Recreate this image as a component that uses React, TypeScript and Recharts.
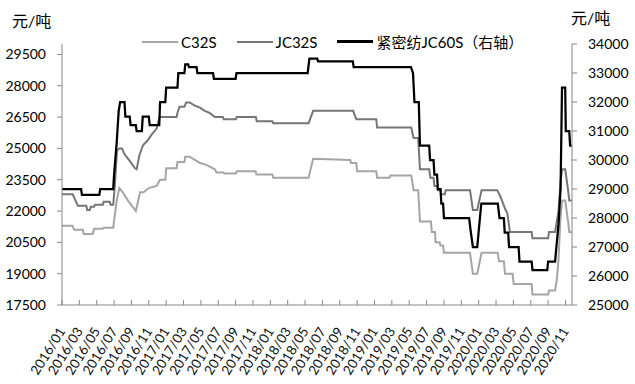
import { Line, LineChart, XAxis, YAxis } from "recharts";

const tickLabels = [
  "2016/01", "2016/03", "2016/05", "2016/07", "2016/09", "2016/11",
  "2017/01", "2017/03", "2017/05", "2017/07", "2017/09", "2017/11",
  "2018/01", "2018/03", "2018/05", "2018/07", "2018/09", "2018/11",
  "2019/01", "2019/03", "2019/05", "2019/07", "2019/09", "2019/11",
  "2020/01", "2020/03", "2020/05", "2020/07", "2020/09", "2020/11",
];

const leftTicks = [17500, 19000, 20500, 22000, 23500, 25000, 26500, 28000, 29500];
const rightTicks = [25000, 26000, 27000, 28000, 29000, 30000, 31000, 32000, 33000, 34000];

// C32S (left axis)
const c32sDates = [
  "2016/01/01", "2016/02/07", "2016/02/13", "2016/03/13", "2016/03/16", "2016/04/17",
  "2016/04/22", "2016/05/22", "2016/05/25", "2016/06/28", "2016/07/10", "2016/07/19",
  "2016/08/01", "2016/08/19", "2016/09/16", "2016/10/01", "2016/10/13", "2016/11/01",
  "2016/11/28", "2016/12/10", "2016/12/28", "2017/01/01", "2017/02/07", "2017/02/10",
  "2017/03/04", "2017/03/07", "2017/03/22", "2017/04/10", "2017/04/28", "2017/05/22",
  "2017/06/19", "2017/06/25", "2017/07/19", "2017/07/22", "2017/09/02", "2017/09/05",
  "2017/11/10", "2017/11/13", "2018/01/08", "2018/01/11", "2018/05/13", "2018/05/29",
  "2018/10/07", "2018/10/10", "2018/10/28", "2018/11/01", "2019/01/07", "2019/01/10",
  "2019/02/23", "2019/02/26", "2019/05/08", "2019/05/16", "2019/06/02", "2019/06/08",
  "2019/07/16", "2019/07/19", "2019/07/30", "2019/08/02", "2019/08/16", "2019/08/19",
  "2019/08/28", "2019/09/01", "2019/12/01", "2019/12/11", "2019/12/26", "2020/01/11",
  "2020/03/07", "2020/03/11", "2020/03/28", "2020/04/02", "2020/04/28", "2020/05/02",
  "2020/07/04", "2020/07/07", "2020/09/01", "2020/09/04", "2020/09/25", "2020/10/01",
  "2020/10/07", "2020/10/13", "2020/10/19", "2020/10/30", "2020/11/10", "2020/11/14",
  "2020/11/23",
];
const c32sValues = [
  21300, 21300, 21100, 21100, 20900, 20900,
  21150, 21150, 21200, 21200, 22500, 23100,
  22900, 22500, 22000, 22900, 22900, 23100,
  23200, 23500, 23500, 24050, 24050, 24350,
  24350, 24600, 24600, 24450, 24300, 24200,
  24000, 23850, 23850, 23800, 23800, 23900,
  23900, 23750, 23750, 23600, 23600, 24500,
  24450, 24300, 24300, 23900, 23900, 23600,
  23600, 23700, 23700, 23000, 23000, 21500,
  21500, 21000, 21000, 20500, 20500, 20350,
  20350, 20000, 20000, 19000, 19000, 20000,
  20000, 19600, 19600, 19000, 19000, 18500,
  18500, 18000, 18000, 18200, 18200, 18700,
  19700, 21500, 22500, 22500, 21500, 21000,
  21000,
];

// JC32S (left axis)
const jc32sDates = [
  "2016/01/01", "2016/02/08", "2016/02/26", "2016/03/25", "2016/03/28", "2016/04/07",
  "2016/04/10", "2016/04/22", "2016/04/25", "2016/05/22", "2016/05/25", "2016/06/16",
  "2016/06/19", "2016/06/28", "2016/07/04", "2016/07/11", "2016/07/19", "2016/07/28",
  "2016/08/08", "2016/08/25", "2016/09/13", "2016/09/19", "2016/09/29", "2016/10/11",
  "2016/10/28", "2016/11/10", "2016/11/28", "2016/12/08", "2017/02/07", "2017/02/10",
  "2017/02/17", "2017/03/04", "2017/03/10", "2017/03/22", "2017/04/10", "2017/04/28",
  "2017/05/14", "2017/06/01", "2017/06/19", "2017/07/17", "2017/07/20", "2017/09/02",
  "2017/09/05", "2017/11/11", "2017/11/14", "2018/01/08", "2018/01/11", "2018/05/13",
  "2018/05/29", "2018/10/17", "2018/10/28", "2019/01/07", "2019/01/10", "2019/05/08",
  "2019/05/16", "2019/06/02", "2019/06/08", "2019/07/10", "2019/07/14", "2019/07/25",
  "2019/07/28", "2019/08/07", "2019/08/10", "2019/08/19", "2019/08/22", "2019/09/04",
  "2019/09/07", "2019/12/01", "2019/12/11", "2019/12/26", "2020/01/11", "2020/03/05",
  "2020/03/16", "2020/04/04", "2020/04/10", "2020/04/19", "2020/07/04", "2020/07/07",
  "2020/09/01", "2020/09/04", "2020/09/25", "2020/10/07", "2020/10/14", "2020/10/19",
  "2020/10/30", "2020/11/10", "2020/11/14", "2020/11/23",
];
const jc32sValues = [
  22800, 22800, 22250, 22250, 22050, 22050,
  22200, 22200, 22300, 22300, 22450, 22450,
  22300, 22300, 23300, 24900, 25000, 25000,
  24700, 24400, 24050, 24000, 24700, 25150,
  25400, 25650, 25950, 26500, 26500, 26700,
  27000, 27000, 27200, 27200, 27050, 26950,
  26800, 26700, 26500, 26500, 26400, 26400,
  26500, 26500, 26300, 26300, 26200, 26200,
  26800, 26800, 26400, 26400, 26000, 26000,
  25500, 25500, 24000, 24000, 23600, 23600,
  23200, 23200, 23000, 23000, 22800, 22800,
  23000, 23000, 22050, 22050, 23000, 23000,
  22700, 22050, 21900, 21000, 21000, 20700,
  20700, 21000, 21000, 22000, 23400, 24000,
  24000, 23000, 22500, 22500,
];

// 紧密纺JC60S (right axis)
const jc60sDates = [
  "2016/01/01", "2016/03/07", "2016/03/10", "2016/05/10", "2016/05/13", "2016/06/28",
  "2016/07/01", "2016/07/10", "2016/07/17", "2016/07/22", "2016/08/07", "2016/08/10",
  "2016/08/25", "2016/08/28", "2016/09/16", "2016/09/19", "2016/10/07", "2016/10/10",
  "2016/11/01", "2016/11/04", "2016/12/07", "2016/12/10", "2016/12/28", "2017/01/01",
  "2017/02/10", "2017/02/13", "2017/03/04", "2017/03/07", "2017/03/17", "2017/03/20",
  "2017/04/16", "2017/04/19", "2017/06/13", "2017/06/16", "2017/09/01", "2017/09/04",
  "2018/05/10", "2018/05/16", "2018/06/13", "2018/06/16", "2018/10/16", "2018/10/19",
  "2019/05/07", "2019/05/14", "2019/05/19", "2019/06/04", "2019/06/08", "2019/07/10",
  "2019/07/13", "2019/07/25", "2019/07/28", "2019/08/07", "2019/08/10", "2019/08/19",
  "2019/08/22", "2019/08/28", "2019/09/01", "2019/11/28", "2019/12/04", "2019/12/11",
  "2019/12/26", "2020/01/10", "2020/03/07", "2020/03/13", "2020/03/28", "2020/04/01",
  "2020/04/13", "2020/04/16", "2020/05/19", "2020/05/22", "2020/07/04", "2020/07/07",
  "2020/08/28", "2020/09/01", "2020/09/25", "2020/10/07", "2020/10/14", "2020/10/19",
  "2020/10/30", "2020/11/02", "2020/11/14", "2020/11/17", "2020/11/23",
];
const jc60sValues = [
  29000, 29000, 28800, 28800, 29000, 29000,
  29500, 30600, 31700, 32000, 32000, 31500,
  31500, 31200, 31200, 31000, 31000, 31500,
  31500, 31200, 31200, 32000, 32000, 32500,
  32500, 33000, 33000, 33300, 33300, 33200,
  33200, 33000, 33000, 32800, 32800, 33000,
  33000, 33500, 33500, 33400, 33400, 33200,
  33200, 33000, 32000, 32000, 30500, 30500,
  30000, 30000, 29500, 29500, 29000, 29000,
  28500, 28500, 28000, 28000, 27500, 27000,
  27000, 28500, 28500, 28000, 28000, 27500,
  27500, 27000, 27000, 26500, 26500, 26200,
  26200, 26500, 26500, 27800, 29000, 32500,
  32500, 31000, 31000, 30500, 30500,
];

const monthPos = (d: string) => {
  const [y, m, day] = d.split("/").map(Number);
  return (y - 2016) * 12 + (m - 1) + ((day || 1) - 1) / 30;
};

const toSeries = (dates: string[], values: number[]) =>
  dates.map((d, i) => ({ t: monthPos(d), v: values[i] }));

const c32sData = toSeries(c32sDates, c32sValues);
const jc32sData = toSeries(jc32sDates, jc32sValues);
const jc60sData = toSeries(jc60sDates, jc60sValues);
const xTicks = tickLabels.map((l) => monthPos(l + "/01"));

const axisColor = "#868686";
const fontStack = "Lato, 'Noto Sans CJK SC', sans-serif";

const XTick = (props: any) => {
  const { x, y, payload } = props;
  const label = tickLabels[xTicks.indexOf(payload.value)] ?? "";
  const tx = x + 4;
  const ty = y + 26;
  return (
    <g>
      <line x1={x} x2={x} y1={y} y2={y - 5} stroke={axisColor} />
      <text
        x={tx}
        y={ty}
        textAnchor="end"
        fontSize={13.5}
        fill="#111"
        transform={`rotate(-58 ${tx} ${ty})`}
      >
        {label}
      </text>
    </g>
  );
};

const legendItems = [
  { name: "C32S", color: "#a5a5a5", width: 2 },
  { name: "JC32S", color: "#767676", width: 2 },
  { name: "紧密纺JC60S（右轴）", color: "#000", width: 2.25 },
];

const App = () => {
  return (
    <div
      style={{
        position: "absolute",
        left: 0,
        top: 0,
        width: 635,
        height: 384,
        background: "#fff",
        fontFamily: fontStack,
      }}
    >
      <div style={{ position: "absolute", left: 12, top: 8, fontSize: 16 }}>元/吨</div>
      <div style={{ position: "absolute", left: 571, top: 5, fontSize: 16 }}>元/吨</div>
      <div
        style={{
          position: "absolute",
          left: 142,
          top: 31,
          display: "flex",
          alignItems: "center",
          fontSize: 15,
          zIndex: 2,
        }}
      >
        {legendItems.map((it) => (
          <div key={it.name} style={{ display: "flex", alignItems: "center", marginRight: 20 }}>
            <div style={{ width: 36, height: it.width, background: it.color, marginRight: 3 }} />
            <span>{it.name}</span>
          </div>
        ))}
      </div>
      <LineChart width={635} height={384} margin={{ top: 44, right: 0, bottom: 0, left: 0 }}>
        <XAxis
          type="number"
          dataKey="t"
          domain={[0, 58.75]}
          ticks={xTicks}
          interval={0}
          allowDataOverflow
          height={79}
          tickSize={0}
          tickMargin={0}
          tickLine={false}
          stroke={axisColor}
          tick={<XTick />}
        />
        <YAxis
          yAxisId="left"
          domain={[17500, 30000]}
          ticks={leftTicks}
          interval={0}
          width={62}
          stroke={axisColor}
          tickSize={5}
          tickMargin={11}
          tick={{ fill: "#000", fontSize: 14 }}
        />
        <YAxis
          yAxisId="right"
          orientation="right"
          domain={[25000, 34000]}
          ticks={rightTicks}
          interval={0}
          width={63}
          stroke={axisColor}
          tickSize={5}
          tickMargin={11}
          tick={{ fill: "#000", fontSize: 14, textAnchor: "start" }}
        />
        <Line
          yAxisId="left"
          data={c32sData}
          dataKey="v"
          name="C32S"
          stroke="#a5a5a5"
          strokeWidth={2}
          dot={false}
          isAnimationActive={false}
        />
        <Line
          yAxisId="left"
          data={jc32sData}
          dataKey="v"
          name="JC32S"
          stroke="#767676"
          strokeWidth={2}
          dot={false}
          isAnimationActive={false}
        />
        <Line
          yAxisId="right"
          data={jc60sData}
          dataKey="v"
          name="紧密纺JC60S（右轴）"
          stroke="#000"
          strokeWidth={2.25}
          dot={false}
          isAnimationActive={false}
        />
      </LineChart>
    </div>
  );
};

export default App;
